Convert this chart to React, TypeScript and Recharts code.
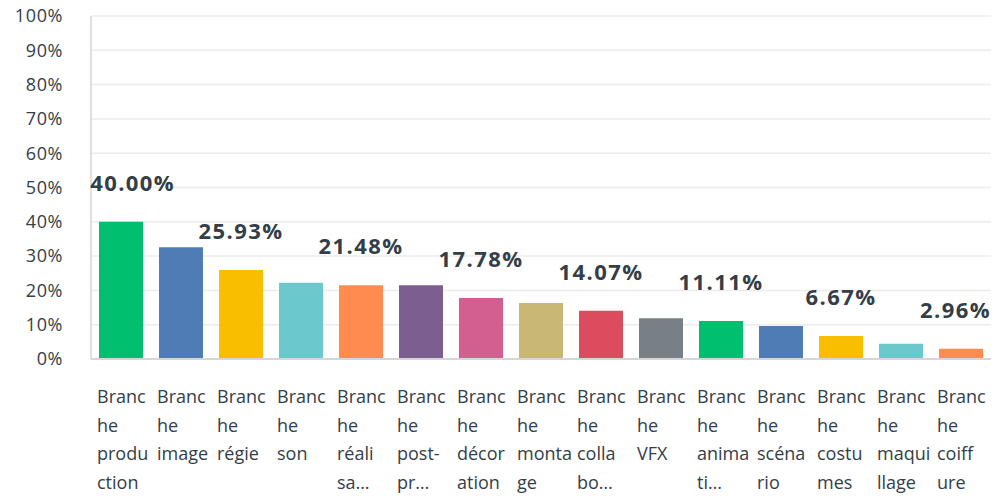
import { BarChart, Bar, XAxis, YAxis, CartesianGrid, Cell, LabelList } from 'recharts'

const categories = [
  'Branche production',
  'Branche image',
  'Branche régie',
  'Branche son',
  'Branche réalisation',
  'Branche post-production',
  'Branche décoration',
  'Branche montage',
  'Branche collaboration',
  'Branche VFX',
  'Branche animation',
  'Branche scénario',
  'Branche costumes',
  'Branche maquillage',
  'Branche coiffure',
]

// wrapped tick text, as shown under each bar
const tickLabels = [
  ['Branc', 'he', 'produ', 'ction'],
  ['Branc', 'he', 'image'],
  ['Branc', 'he', 'régie'],
  ['Branc', 'he', 'son'],
  ['Branc', 'he', 'réali', 'sa…'],
  ['Branc', 'he', 'post-', 'pr…'],
  ['Branc', 'he', 'décor', 'ation'],
  ['Branc', 'he', 'monta', 'ge'],
  ['Branc', 'he', 'colla', 'bo…'],
  ['Branc', 'he', 'VFX'],
  ['Branc', 'he', 'anima', 'ti…'],
  ['Branc', 'he', 'scéna', 'rio'],
  ['Branc', 'he', 'costu', 'mes'],
  ['Branc', 'he', 'maqui', 'llage'],
  ['Branc', 'he', 'coiff', 'ure'],
]

const values = [40.0, 32.59, 25.93, 22.22, 21.48, 21.48, 17.78, 16.3, 14.07, 11.85, 11.11, 9.63, 6.67, 4.44, 2.96]

const colors = [
  '#00bf6f', '#507cb6', '#f9be00', '#6bc8cd', '#ff8b4f',
  '#7d5e90', '#d25f90', '#c9b775', '#dc4b5e', '#768086',
  '#00bf6f', '#507cb6', '#f9be00', '#6bc8cd', '#ff8b4f',
]

const yTicks = [0, 10, 20, 30, 40, 50, 60, 70, 80, 90, 100]

const data = categories.map((name, i) => ({ name, value: values[i], lines: tickLabels[i] }))

const TEXT = '#333e48'
const FONT = '"Open Sans", sans-serif'
const PLOT_LEFT = 91
const PLOT_RIGHT = 991

function CategoryTick(props: any) {
  const { x, y, index } = props
  const lines = data[index]?.lines ?? []
  return (
    <text x={x - 24} y={y} fill={TEXT} fontSize={18} fontFamily={FONT} textAnchor="start">
      {lines.map((l: string, i: number) => (
        <tspan key={i} x={x - 24} y={y + 36 + i * 28.5}>{l}</tspan>
      ))}
    </text>
  )
}

function ValueLabel(props: any) {
  const { x, y, width, value, index } = props
  if (index % 2 !== 0) return null
  const text = Number(value).toFixed(2) + '%'
  const w = text.length * 14.2
  let left = x + width / 2 - w / 2
  if (left < PLOT_LEFT - 1) left = PLOT_LEFT - 1
  if (left + w > PLOT_RIGHT) left = PLOT_RIGHT - w
  return (
    <text
      x={left + w / 2}
      y={y - 31}
      fill={TEXT}
      fontSize={22}
      fontWeight={700}
      fontFamily={FONT}
      letterSpacing={1.4}
      textAnchor="middle"
    >
      {text}
    </text>
  )
}

export default function App() {
  return (
    <div style={{ position: 'fixed', top: 0, left: 0, width: 995, height: 496, background: '#fff' }}>
      <BarChart
        width={995}
        height={496}
        data={data}
        margin={{ top: 16, right: 4, left: 0, bottom: 0 }}
        barSize={44}
      >
        <CartesianGrid vertical={false} stroke="#ececec" strokeWidth={1.5} />
        <XAxis
          dataKey="name"
          interval={0}
          height={137}
          tickLine={false}
          axisLine={{ stroke: '#d6d6d6', strokeWidth: 2 }}
          tick={<CategoryTick />}
        />
        <YAxis
          domain={[0, 100]}
          ticks={yTicks}
          width={PLOT_LEFT}
          tickLine={false}
          tickMargin={22}
          axisLine={{ stroke: '#d6d6d6', strokeWidth: 1.5 }}
          tickFormatter={(v: number) => `${v}%`}
          tick={{ fill: TEXT, fontSize: 18, fontFamily: FONT, letterSpacing: 0.6 }}
        />
        <Bar dataKey="value" isAnimationActive={false}>
          {data.map((d, i) => (
            <Cell key={d.name} fill={colors[i]} />
          ))}
          <LabelList dataKey="value" content={<ValueLabel />} />
        </Bar>
      </BarChart>
    </div>
  )
}
